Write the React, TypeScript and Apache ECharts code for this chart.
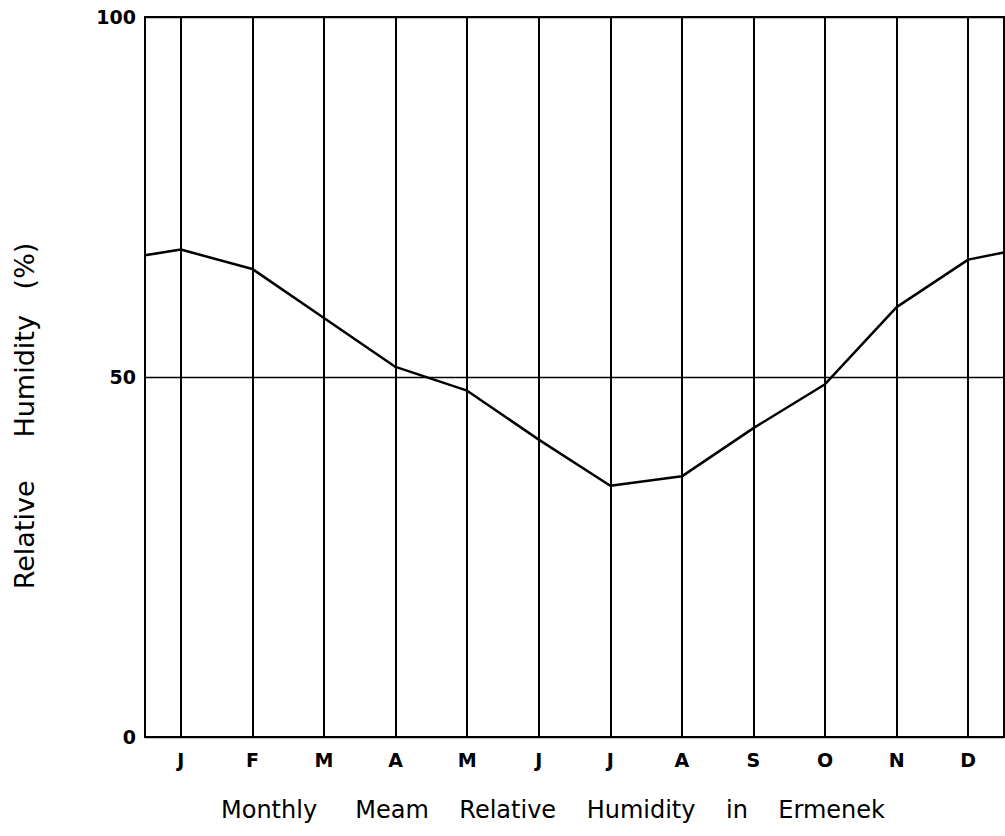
import React, { useEffect, useRef } from 'react';
import * as echarts from 'echarts';

// Month initials (category axis)
const months = ['J', 'F', 'M', 'A', 'M', 'J', 'J', 'A', 'S', 'O', 'N', 'D'];
// Monthly mean relative humidity (%)
const humidity = [67.7, 65.0, 58.2, 51.4, 48.1, 41.3, 34.9, 36.2, 42.9, 49.0, 59.7, 66.3];
// Curve value where it meets the left and right edges of the frame
const edgeValues = [66.9, 67.3];
// Y axis range / ticks
const yRange = [0, 100];
const yStep = 50;
// Titles
const xTitle = 'Monthly     Meam    Relative    Humidity    in    Ermenek';
const yTitle = 'Relative     Humidity   (%)';

const FONT = 'DejaVu Sans';

export default function App() {
  const ref = useRef<HTMLDivElement>(null);

  useEffect(() => {
    document.body.style.margin = '0';
    if (!ref.current) return;
    const chart = echarts.init(ref.current, undefined, { renderer: 'svg' });

    const lineData: number[][] = [
      [-0.5, edgeValues[0]],
      ...humidity.map((v, i) => [i, v]),
      [months.length - 0.5, edgeValues[1]],
    ];

    chart.setOption({
      animation: false,
      backgroundColor: '#ffffff',
      grid: {
        left: 145,
        right: 1,
        top: 17,
        bottom: 99,
        show: true,
        borderColor: '#000',
        borderWidth: 2,
        backgroundColor: 'transparent',
      },
      xAxis: [
        {
          type: 'category',
          data: months,
          boundaryGap: true,
          axisLine: { show: true, lineStyle: { color: '#000', width: 2 } },
          axisTick: {
            show: true,
            alignWithLabel: true,
            inside: true,
            length: 720,
            lineStyle: { color: '#000', width: 2 },
          },
          axisLabel: {
            color: '#000',
            fontSize: 19,
            fontWeight: 'bold',
            fontFamily: FONT,
            margin: 13,
          },
          splitLine: { show: false },
        },
        {
          type: 'value',
          min: -0.5,
          max: months.length - 0.5,
          show: false,
          position: 'bottom',
        },
      ],
      yAxis: {
        type: 'value',
        min: yRange[0],
        max: yRange[1],
        interval: yStep,
        axisLine: { show: true, lineStyle: { color: '#000', width: 2 } },
        axisTick: { show: false },
        axisLabel: {
          color: '#000',
          fontSize: 19,
          fontWeight: 'bold',
          fontFamily: FONT,
          margin: 9,
        },
        splitLine: { show: true, lineStyle: { color: '#000', width: 1.3 } },
      },
      graphic: [
        {
          type: 'text',
          x: 553,
          y: 810,
          style: {
            text: xTitle,
            fontSize: 24,
            fontFamily: FONT,
            fill: '#000',
            textAlign: 'center',
            textVerticalAlign: 'middle',
          },
        },
        {
          type: 'text',
          x: 24,
          y: 416,
          rotation: Math.PI / 2,
          style: {
            text: yTitle,
            fontSize: 27,
            fontFamily: FONT,
            fill: '#000',
            textAlign: 'center',
            textVerticalAlign: 'middle',
          },
        },
      ],
      series: [
        {
          type: 'line',
          xAxisIndex: 1,
          yAxisIndex: 0,
          data: lineData,
          showSymbol: false,
          symbol: 'none',
          lineStyle: { color: '#000', width: 2.5 },
          z: 5,
        },
      ],
    });

    return () => {
      chart.dispose();
    };
  }, []);

  return <div ref={ref} style={{ width: 1005, height: 836 }} />;
}
